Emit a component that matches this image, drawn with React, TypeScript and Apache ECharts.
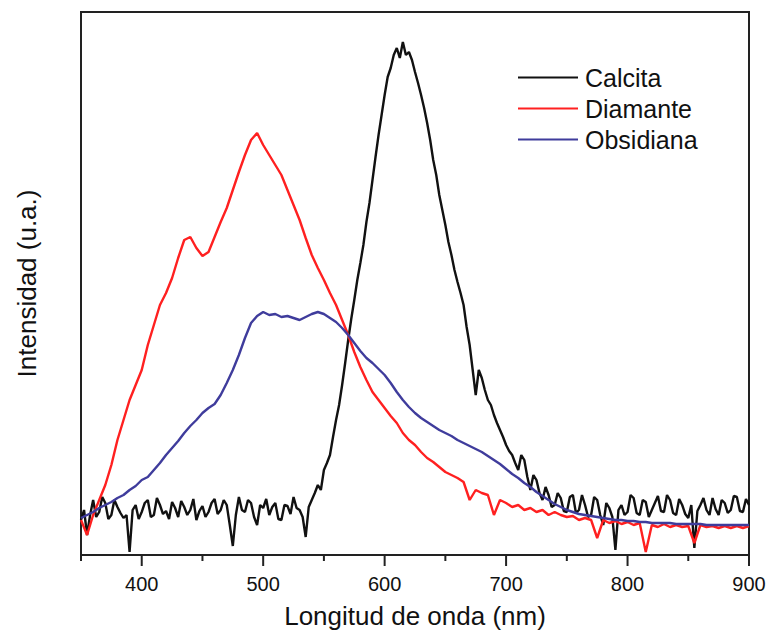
import React, { useEffect, useRef } from "react";
import * as echarts from "echarts";

// wavelength grids (nm)
const wavelengthStart = 350;
const calcitaStep = 2.5;
const otherStep = 5;

// Calcita: 2.5 nm step, 350–900 nm
const calcita = [
  35, 45, 20, 40, 55, 38, 43, 58, 52, 36, 40, 55, 48, 42, 37, 40, 3, 45, 50, 36,
  43, 52, 55, 38, 40, 57, 50, 41, 44, 36, 53, 47, 38, 54, 48, 40, 45, 56, 35, 44,
  49, 38, 43, 52, 56, 41, 45, 55, 50, 30, 9, 40, 58, 45, 43, 55, 52, 38, 30, 50,
  47, 56, 40, 48, 52, 36, 35, 50, 49, 41, 58, 47, 45, 38, 18, 48, 55, 62, 70, 65,
  85, 92, 100, 118, 135, 150, 170, 192, 215, 236, 255, 275, 292, 310, 333, 352, 375, 398, 420, 440,
  460, 478, 487, 500, 507, 497, 513, 500, 503, 495, 483, 472, 460, 447, 432, 415, 395, 380, 360, 345,
  330, 313, 300, 285, 273, 262, 250, 228, 210, 185, 160, 185, 177, 165, 155, 150, 140, 132, 125, 118,
  110, 104, 100, 92, 85, 100, 95, 78, 65, 80, 75, 62, 55, 68, 60, 48, 50, 62, 57, 44,
  43, 58, 60, 42, 45, 60, 50, 38, 40, 58, 55, 40, 30, 52, 47, 38, 5, 45, 50, 40,
  43, 60, 57, 42, 40, 55, 53, 38, 45, 52, 59, 44, 43, 60, 55, 42, 40, 56, 50, 41,
  37, 50, 7, 44, 50, 57, 45, 40, 57, 46, 40, 55, 52, 42, 45, 59, 58, 44, 43, 56, 50,
];

// Diamante: 5 nm step, 350–900 nm
const diamante = [
  35, 20, 40, 55, 70, 90, 115, 135, 155, 170, 185, 210, 230, 250, 262, 277, 297, 315, 318, 307,
  299, 303, 318, 333, 347, 365, 383, 400, 415, 422, 410, 400, 390, 380, 365, 350, 335, 317, 300, 287,
  275, 262, 250, 235, 220, 203, 188, 175, 163, 155, 147, 139, 132, 122, 115, 110, 103, 97, 93, 88,
  83, 80, 77, 73, 55, 65, 62, 60, 40, 55, 52, 48, 50, 45, 47, 43, 45, 40, 43, 40,
  38, 39, 35, 37, 35, 17, 35, 32, 34, 31, 33, 30, 32, 3, 30, 28, 31, 28, 30, 28,
  29, 12, 30, 28, 29, 27, 29, 27, 29, 27, 29,
];

// Obsidiana: 5 nm step, 350–900 nm
const obsidiana = [
  37, 40, 43, 47, 50, 53, 57, 60, 65, 69, 75, 78, 85, 92, 100, 107, 114, 122, 129, 135,
  142, 147, 151, 160, 172, 185, 200, 217, 232, 239, 243, 240, 241, 238, 239, 237, 235, 238, 241, 243,
  241, 237, 233, 227, 220, 212, 204, 197, 192, 186, 180, 172, 163, 155, 148, 142, 137, 133, 129, 125,
  122, 119, 115, 112, 109, 106, 103, 99, 95, 91, 86, 81, 77, 72, 68, 63, 59, 55, 51, 48,
  45, 43, 41, 40, 39, 38, 37, 36, 35, 35, 34, 34, 33, 33, 32, 32, 32, 32, 31, 31,
  31, 31, 31, 30, 30, 30, 30, 30, 30, 30, 30,
];

const seriesNames = ["Calcita", "Diamante", "Obsidiana"];
const seriesColors = ["#111111", "#ff2020", "#3f3c9c"];
const majorTicks = [400, 500, 600, 700, 800, 900];
const minorTicks = [350, 450, 550, 650, 750, 850];

const toPairs = (arr: number[], step: number) =>
  arr.map((v, i) => [wavelengthStart + i * step, v]);

export default function App() {
  const ref = useRef<HTMLDivElement>(null);

  useEffect(() => {
    document.body.style.margin = "0";
    if (!ref.current) return;
    const chart = echarts.init(ref.current, undefined, { renderer: "svg" });
    const font = "Liberation Sans, Arial, Helvetica, sans-serif";
    const axisColor = "#222";
    chart.setOption({
      animation: false,
      grid: {
        left: 81,
        top: 12,
        right: 22,
        bottom: 80,
        show: true,
        borderColor: axisColor,
        borderWidth: 2,
      },
      legend: {
        orient: "vertical",
        left: 518,
        top: 65,
        padding: 0,
        itemWidth: 60,
        itemHeight: 2,
        itemGap: 6,
        icon: "rect",
        textStyle: { fontFamily: font, fontSize: 25, color: "#111", padding: [0, 0, 0, 2] },
        data: seriesNames,
      },
      xAxis: {
        type: "value",
        min: 350,
        max: 900,
        interval: 50,
        name: "Longitud de onda (nm)",
        nameLocation: "middle",
        nameGap: 48,
        nameTextStyle: { fontFamily: font, fontSize: 26, color: "#111" },
        axisLine: { show: true, lineStyle: { color: axisColor, width: 2 } },
        axisTick: { show: false },
        axisLabel: {
          show: true,
          fontFamily: font,
          fontSize: 20,
          color: "#111",
          margin: 19,
          formatter: (v: number) => (v % 100 === 0 ? String(v) : ""),
        },
        splitLine: { show: false },
      },
      yAxis: {
        type: "value",
        min: 0,
        max: 543,
        name: "Intensidad (u.a.)",
        nameLocation: "middle",
        nameGap: 41,
        nameTextStyle: { fontFamily: font, fontSize: 26, color: "#111" },
        axisLine: { show: true, lineStyle: { color: axisColor, width: 2 } },
        axisTick: { show: false },
        axisLabel: { show: false },
        splitLine: { show: false },
      },
      series: [
        { arr: calcita, step: calcitaStep },
        { arr: diamante, step: otherStep },
        { arr: obsidiana, step: otherStep },
      ].map((s, i) => ({
        name: seriesNames[i],
        type: "line",
        data: toPairs(s.arr, s.step),
        showSymbol: false,
        symbol: "none",
        color: seriesColors[i],
        lineStyle: { color: seriesColors[i], width: 2.4 },
      })),
    });

    // Axis ticks positioned through the chart's own x scale
    const tickGraphics = [...majorTicks, ...minorTicks].map((v) => {
      const p = chart.convertToPixel({ xAxisIndex: 0, yAxisIndex: 0 }, [v, 0]) as number[];
      const len = majorTicks.includes(v) ? 11 : 6;
      return {
        type: "line",
        silent: true,
        z: 100,
        shape: { x1: p[0], y1: p[1], x2: p[0], y2: p[1] + len },
        style: { stroke: axisColor, lineWidth: 2 },
      };
    });
    chart.setOption({ graphic: tickGraphics });

    return () => chart.dispose();
  }, []);

  return <div ref={ref} style={{ width: 771, height: 635 }} />;
}
